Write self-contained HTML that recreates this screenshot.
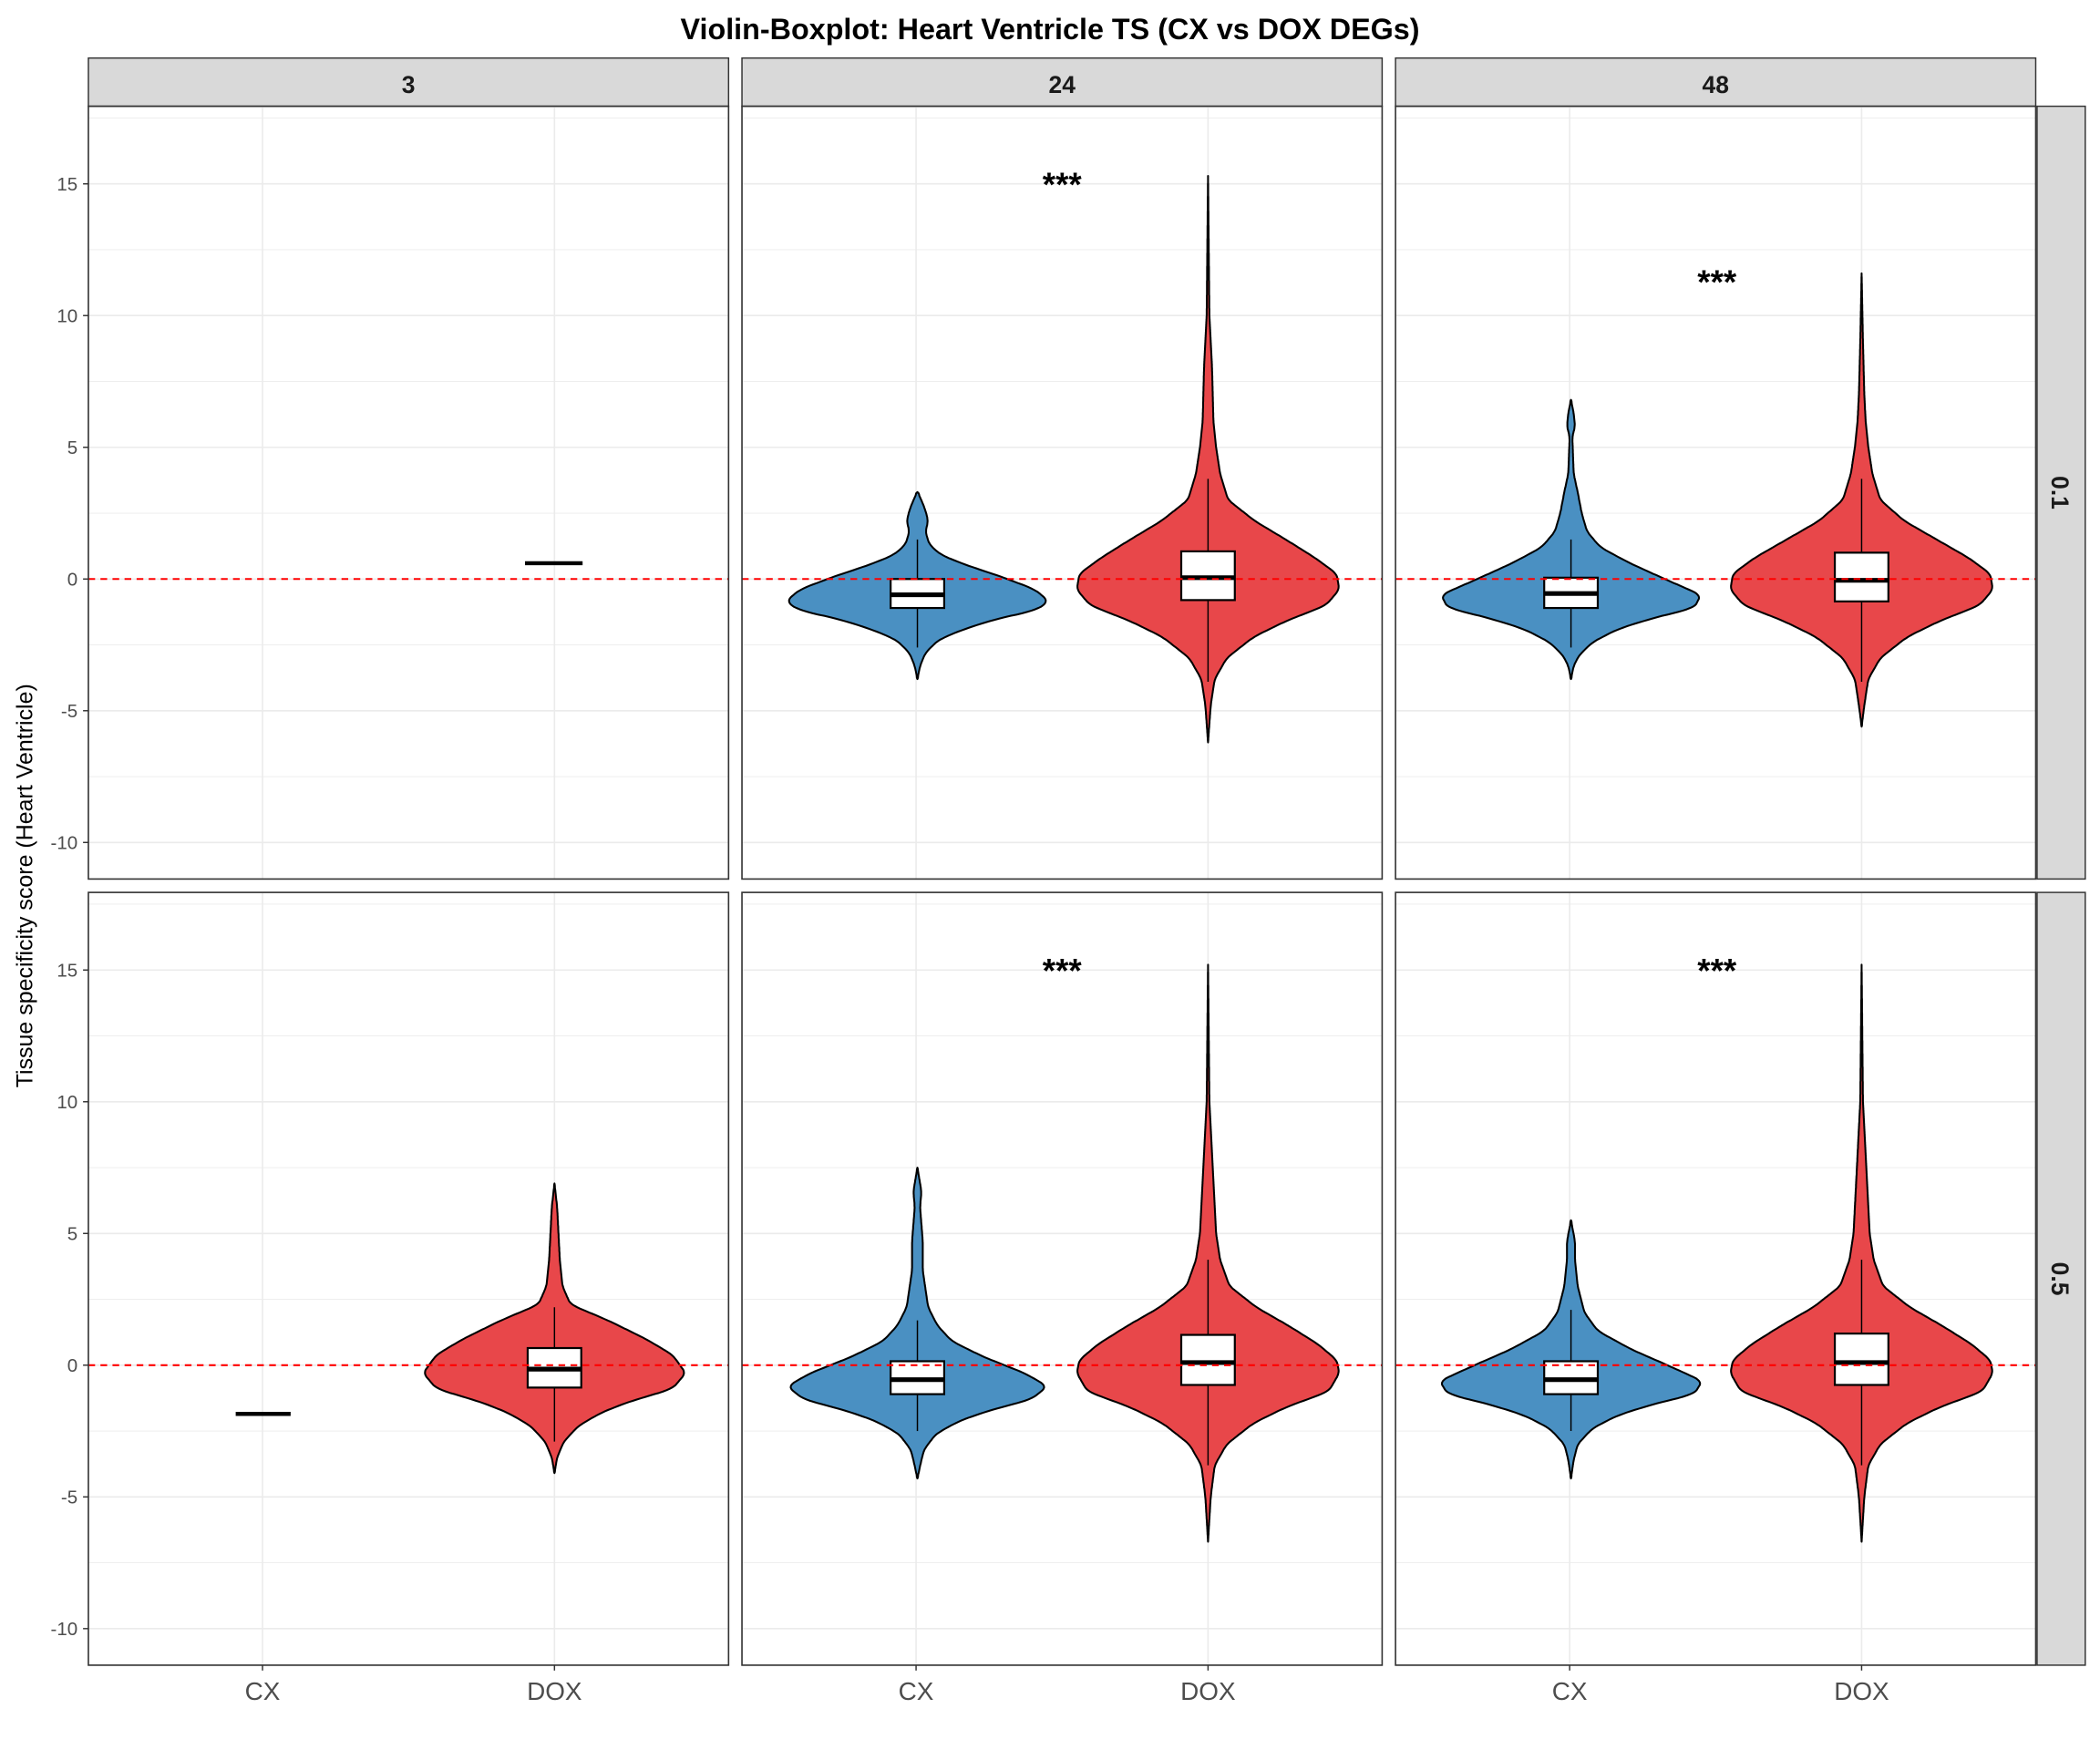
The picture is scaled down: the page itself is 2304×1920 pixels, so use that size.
<!DOCTYPE html>
<html><head><meta charset="utf-8"><style>html,body{margin:0;padding:0;background:#fff}svg{display:block}</style></head>
<body>
<svg id="s" xmlns="http://www.w3.org/2000/svg" width="2304" height="1920" viewBox="0 0 1568 1306" font-family="Liberation Sans, Arial, sans-serif">
<rect width="1568" height="1306" fill="#fff"/>
<text x="784" y="29" text-anchor="middle" font-size="22" font-weight="bold" fill="#000">Violin-Boxplot: Heart Ventricle TS (CX vs DOX DEGs)</text>
<text transform="translate(24,661) rotate(-90)" text-anchor="middle" font-size="17" fill="#000">Tissue specificity score (Heart Ventricle)</text>
<g id="g"></g>
</svg>
<script>
var g=document.getElementById('g'),h='';
var cols=[66,554,1042],W=478,rows=[79,666],H=577;
function Y(r,v){return (r==0?432:1019)-v*19.67;}
cols.forEach(function(x,i){h+='<rect x="'+x+'" y="43" width="'+W+'" height="36" fill="#d9d9d9" stroke="#333" stroke-width="1"/>';
h+='<text x="'+(x+W/2)+'" y="69" text-anchor="middle" font-size="18" font-weight="bold" fill="#1a1a1a">'+['3','24','48'][i]+'</text>';});
rows.forEach(function(y,i){h+='<rect x="1521" y="'+y+'" width="36" height="'+H+'" fill="#d9d9d9" stroke="#333" stroke-width="1"/>';
h+='<text transform="translate(1532,'+(y+H/2)+') rotate(90)" text-anchor="middle" font-size="18" font-weight="bold" fill="#1a1a1a">'+['0.1','0.5'][i]+'</text>';});
rows.forEach(function(py,r){cols.forEach(function(px,c){
 for(var v=-10;v<=17.5;v+=2.5){var y=Y(r,v);if(y<py||y>py+H)continue;h+='<line x1="'+px+'" x2="'+(px+W)+'" y1="'+y+'" y2="'+y+'" stroke="#ebebeb" stroke-width="'+(v%5==0?1.1:0.6)+'"/>';}
 [130,348].forEach(function(o){h+='<line x1="'+(px+o)+'" x2="'+(px+o)+'" y1="'+py+'" y2="'+(py+H)+'" stroke="#ebebeb" stroke-width="1.1"/>';});
});});
rows.forEach(function(py,r){[15,10,5,0,-5,-10].forEach(function(v){var y=Y(r,v);
 h+='<line x1="62" x2="66" y1="'+y+'" y2="'+y+'" stroke="#333"/>';
 h+='<text x="58" y="'+(y+5)+'" text-anchor="end" font-size="14" fill="#4d4d4d">'+v+'</text>';});});
cols.forEach(function(px){[['CX',130],['DOX',348]].forEach(function(a){
 h+='<line x1="'+(px+a[1])+'" x2="'+(px+a[1])+'" y1="1243" y2="1247" stroke="#333"/>';
 h+='<text x="'+(px+a[1])+'" y="1269" text-anchor="middle" font-size="19" fill="#4d4d4d">'+a[0]+'</text>';});});
function path(pts){var d='';for(var i=0;i<pts.length;i++){d+=(i?'L':'M')+pts[i][0].toFixed(1)+','+pts[i][1].toFixed(1);}return d;}
function interp(prof,v){for(var i=0;i<prof.length-1;i++){var a=prof[i],b=prof[i+1];if(v<=a[0]&&v>=b[0]){var t=(a[0]-v)/(a[0]-b[0]);return a[1]+(b[1]-a[1])*t;}}return 0;}
function violin(r,cx,prof,col){var top=prof[0][0],bot=prof[prof.length-1][0],raw=[];
 for(var v=top;v>=bot-1e-9;v-=0.05){raw.push([v,interp(prof,v)]);}
 // smooth widths
 var sm=raw.map(function(p,i){var s=0,n=0;for(var k=-3;k<=3;k++){var q=raw[i+k];if(q){s+=q[1];n++;}}return [p[0],(i==0||i==raw.length-1)?0:s/n];});
 var R=[],L=[];sm.forEach(function(p){R.push([cx+p[1],Y(r,p[0])]);L.push([cx-p[1],Y(r,p[0])]);});
 L.reverse();h+='<path d="'+path(R.concat(L))+'Z" fill="'+col+'" stroke="#000" stroke-width="1.4" stroke-linejoin="round"/>';}
function box(r,cx,lo,q1,md,q3,hi){h+='<line x1="'+cx+'" x2="'+cx+'" y1="'+Y(r,hi)+'" y2="'+Y(r,lo)+'" stroke="#000" stroke-width="1"/>';
 h+='<rect x="'+(cx-20)+'" y="'+Y(r,q3)+'" width="40" height="'+(Y(r,q1)-Y(r,q3))+'" fill="#fff" stroke="#000" stroke-width="1.5"/>';
 h+='<line x1="'+(cx-20)+'" x2="'+(cx+20)+'" y1="'+Y(r,md)+'" y2="'+Y(r,md)+'" stroke="#000" stroke-width="3.5"/>';}
var BL='#4a90c2',RD='#e8474a';
var cx1=[[3.3,0],[3,3],[2.6,6],[2.2,8],[1.8,6],[1.3,9],[0.9,18],[0.5,38],[0.1,62],[-0.4,88],[-0.85,98],[-1.2,88],[-1.5,60],[-1.9,35],[-2.3,16],[-2.8,6],[-3.3,2],[-3.8,0]];
var cx2=[[7.5,0],[6.6,3],[6,2],[4.7,4],[3.6,4],[2.2,8],[1.5,15],[0.9,26],[0.3,50],[-0.3,80],[-0.8,97],[-1.3,85],[-1.7,55],[-2.1,32],[-2.6,14],[-3.2,5],[-3.6,3],[-4.3,0]];
var dx=[[15.3,0],[10,1],[8,3],[6,4],[5,6],[4,9],[3,15],[2.2,35],[1.5,58],[0.8,80],[0.2,96],[-0.4,98],[-1,88],[-1.6,58],[-2.2,34],[-3,14],[-3.8,5],[-4.8,2],[-6.2,0]];
var dx2=[[15.2,0],[10,1],[8,3],[6,5],[5,6],[4,9],[3,16],[2.2,36],[1.5,60],[0.8,82],[0.2,96],[-0.3,98],[-1,90],[-1.6,58],[-2.2,34],[-3,14],[-3.8,5],[-5,2],[-6.7,0]];
var dx48=[[11.6,0],[9,1],[7,2],[6,3],[5,5],[4,8],[3,14],[2.2,32],[1.5,56],[0.8,80],[0.2,96],[-0.4,98],[-1,88],[-1.6,58],[-2.2,34],[-3,14],[-3.8,5],[-4.8,2],[-5.6,0]];
var cx48=[[6.8,0],[6.3,2],[5.8,3],[5.4,1],[4,2],[3.3,5],[2.5,8],[1.8,12],[1.2,22],[0.6,44],[0,70],[-0.6,97],[-1.1,92],[-1.5,60],[-1.9,35],[-2.4,16],[-2.9,6],[-3.3,2],[-3.8,0]];
var cx48b=[[5.5,0],[4.7,3],[4,3],[3,5],[2,10],[1.3,20],[0.6,45],[0,72],[-0.6,98],[-1.1,92],[-1.5,60],[-1.9,35],[-2.4,16],[-3,5],[-3.6,2],[-4.3,0]];
var d3=[[6.9,0],[6,2],[5,3],[4,4],[3,6],[2.3,12],[1.7,40],[1,68],[0.4,88],[-0.3,98],[-0.9,88],[-1.4,55],[-1.8,35],[-2.3,18],[-2.9,7],[-3.5,2],[-4.1,0]];
h+='<line x1="392" x2="435" y1="'+Y(0,0.6)+'" y2="'+Y(0,0.6)+'" stroke="#000" stroke-width="3"/>';
violin(0,685,cx1,BL);box(0,685,-2.6,-1.1,-0.6,0,1.5);
violin(0,902,dx,RD);box(0,902,-3.9,-0.8,0.05,1.05,3.8);
violin(0,1173,cx48,BL);box(0,1173,-2.6,-1.1,-0.55,0.05,1.5);
violin(0,1390,dx48,RD);box(0,1390,-3.9,-0.85,-0.05,1.0,3.8);
h+='<line x1="176" x2="217" y1="'+Y(1,-1.85)+'" y2="'+Y(1,-1.85)+'" stroke="#000" stroke-width="3"/>';
violin(1,414,d3,RD);box(1,414,-2.9,-0.85,-0.15,0.65,2.2);
violin(1,685,cx2,BL);box(1,685,-2.5,-1.1,-0.55,0.15,1.7);
violin(1,902,dx2,RD);box(1,902,-3.8,-0.75,0.1,1.15,4.0);
violin(1,1173,cx48b,BL);box(1,1173,-2.5,-1.1,-0.55,0.15,2.1);
violin(1,1390,dx2,RD);box(1,1390,-3.8,-0.75,0.1,1.2,4.0);
rows.forEach(function(py,r){cols.forEach(function(px){var y=Y(r,0);
 h+='<line x1="'+px+'" x2="'+(px+W)+'" y1="'+y+'" y2="'+y+'" stroke="#ff0000" stroke-width="1.4" stroke-dasharray="5,4"/>';
 h+='<rect x="'+px+'" y="'+py+'" width="'+W+'" height="'+H+'" fill="none" stroke="#333" stroke-width="1.1"/>';});});
[[0,793,15],[0,1282,11.3],[1,793,15],[1,1282,15]].forEach(function(a){h+='<text x="'+a[1]+'" y="'+(Y(a[0],a[2])+9)+'" text-anchor="middle" font-size="25" font-weight="bold" fill="#000">***</text>';});
g.innerHTML=h;
</script>
</body></html>
